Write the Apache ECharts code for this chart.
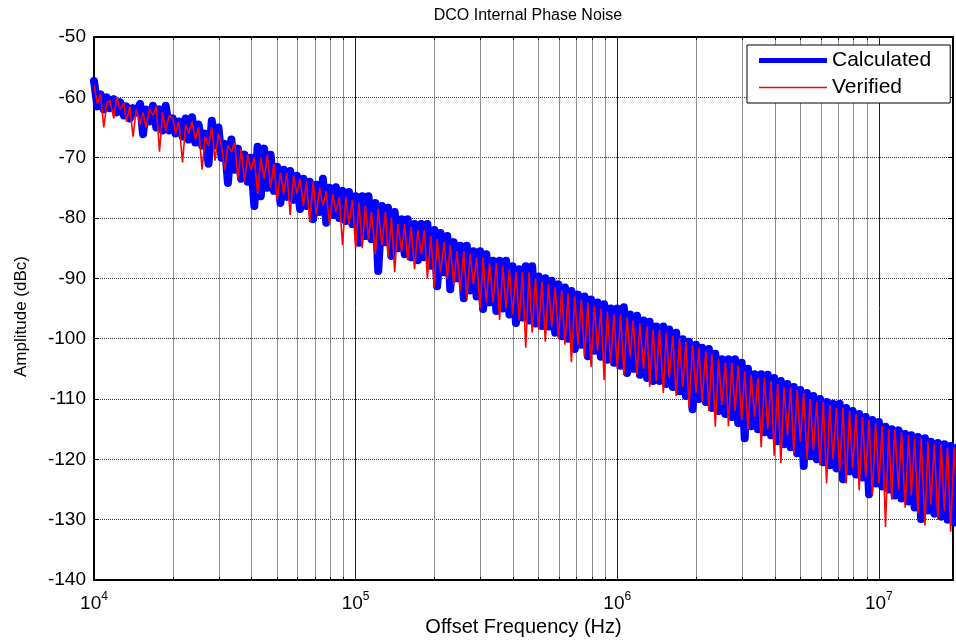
<!DOCTYPE html>
<html>
<head>
<meta charset="utf-8">
<title>DCO Internal Phase Noise</title>
<script src="https://cdn.jsdelivr.net/npm/echarts@6/dist/echarts.min.js"></script>
<style>
  html, body { margin: 0; padding: 0; background: #ffffff; }
  #chart { width: 956px; height: 641px; }
</style>
</head>
<body>
<div id="chart"></div>
<script>
// Offset-frequency grid: 80 log-spaced points per decade
const MANTISSAS = [
  1.00, 1.03, 1.06, 1.09, 1.12, 1.15, 1.19, 1.22, 1.26, 1.30,
  1.33, 1.37, 1.41, 1.45, 1.50, 1.54, 1.58, 1.63, 1.68, 1.73,
  1.78, 1.83, 1.88, 1.94, 2.00, 2.05, 2.11, 2.18, 2.24, 2.30,
  2.37, 2.44, 2.51, 2.59, 2.66, 2.74, 2.82, 2.90, 2.99, 3.07,
  3.16, 3.25, 3.35, 3.45, 3.55, 3.65, 3.76, 3.87, 3.98, 4.10,
  4.22, 4.34, 4.47, 4.60, 4.73, 4.87, 5.01, 5.16, 5.31, 5.46,
  5.62, 5.79, 5.96, 6.13, 6.31, 6.49, 6.68, 6.88, 7.08, 7.29,
  7.50, 7.72, 7.94, 8.18, 8.41, 8.66, 8.91, 9.17, 9.44, 9.72
];
const DECADES = [1e4, 1e5, 1e6, 1e7];

// Calculated phase noise (dBc), one value per grid frequency
const CALCULATED = [
  -57.3, -61.5, -59.5, -62, -60, -61.8, -60.3, -62.5, -60.8, -63,
  -61.5, -63.5, -61.8, -62.5, -61.1, -66.1, -62, -64, -61.4, -65,
  -62, -65.5, -61.4, -65.5, -63.5, -66, -64, -66.5, -63.5, -67,
  -63.3, -67.5, -64.5, -68, -66, -71, -63.9, -68, -65, -70,
  -67.7, -74.2, -67, -72, -68.5, -73.5, -69.5, -74, -70, -78,
  -68.2, -76.4, -68.5, -75, -69.5, -75.5, -71.5, -77.5, -72, -76.5,
  -72.2, -77, -73, -78.5, -73.5, -78, -74, -80.2, -74.5, -79,
  -73.5, -80.8, -75, -79.5, -74.9, -80, -75.5, -80.5, -75.7, -81,
  -76.4, -84.1, -76.4, -83, -76.4, -83.5, -77.5, -88.8, -78, -84,
  -78.3, -86.3, -79, -85, -80.2, -86, -80.2, -86.5, -81, -87,
  -81, -86.5, -81, -87.9, -82, -91.3, -82.5, -89, -83, -91.8,
  -84, -90, -84.6, -93.3, -84.6, -92, -85.5, -93, -85.5, -95.1,
  -86, -94, -87.1, -95.4, -87.1, -95, -87.1, -96, -88, -97.4,
  -88.5, -96.5, -88, -97, -88, -97.5, -89.7, -97.9, -90, -98,
  -90.4, -99, -91, -99.6, -91.5, -100, -92.1, -101.7, -92.7, -101,
  -93, -102.9, -93.5, -102, -94, -103, -94.3, -103.5, -95, -104,
  -95, -104.5, -94.8, -105.7, -96, -105, -96.2, -106, -97, -106.5,
  -97.2, -107, -98, -107, -98, -107.5, -98.5, -108, -99, -108.7,
  -100.1, -109.5, -100.5, -111.7, -101, -110, -101.5, -110.5, -101.7, -111.5,
  -102.5, -112, -103.4, -112.5, -103.4, -113, -103.4, -114, -104, -116.5,
  -105, -114.5, -105.9, -115, -105.9, -115.5, -106, -116, -106.5, -117,
  -107, -117.5, -107.5, -118, -108, -119, -108.5, -121.1, -109, -119.5,
  -109.5, -120, -110, -120.5, -110.5, -121, -110.8, -121.5, -110.8, -123.3,
  -111.5, -122, -112, -122.5, -112.5, -123, -113, -125.8, -113.5, -124,
  -113.8, -124.5, -114.6, -125, -115, -126, -115.2, -126.5, -115.8, -127,
  -116, -128, -116.3, -129.9, -116.5, -128.5, -117.1, -129, -117.3, -129.5,
  -117.5, -130, -117.8, -130.5, -118
];

// Verified phase noise (dBc), same frequency grid
const VERIFIED = [
  -58, -61, -59.5, -65, -61, -60.5, -63.5, -60, -62, -61,
  -64, -61.5, -66.5, -62, -64.5, -62.5, -65, -62, -63, -61.5,
  -69, -62.5, -65.5, -63, -63.5, -66, -64, -70.8, -64.5, -66,
  -64, -67, -65, -72, -66.5, -68, -65, -70.5, -66, -68,
  -72, -68, -69, -67.5, -73.5, -68.5, -74, -69.5, -72, -70,
  -76, -70, -73.5, -69.5, -75, -71, -77, -72.5, -76, -72.5,
  -79.5, -73, -76, -73.5, -78, -74, -80.7, -74, -79.5, -75,
  -78, -75.5, -81, -76, -79, -76.5, -84.5, -76.5, -81, -77,
  -85, -77.5, -85, -78, -83.5, -79, -86, -78.5, -84.5, -79,
  -86.5, -80, -89, -81, -85.5, -81, -87, -81.5, -88.5, -82,
  -86, -82, -90, -83, -91.5, -83.5, -89, -84, -90, -84.5,
  -91, -85.5, -92, -85.5, -93.5, -86, -91, -86.5, -95, -86.5,
  -94, -87.5, -94, -87.5, -96.9, -88, -95, -88.5, -96, -89,
  -97, -89, -101.5, -89, -99, -90, -98.5, -90.5, -100.5, -91,
  -98, -91.5, -100, -92, -101, -92.5, -103.9, -93, -101, -93.5,
  -103, -94, -104.7, -94.5, -102, -95, -106.9, -95.5, -104, -96,
  -105, -96, -106, -96.5, -103, -97, -106, -97.5, -105, -98,
  -108, -98.5, -107, -98.5, -109, -99, -106.5, -99.5, -109.5, -100,
  -108, -100.5, -111.5, -101, -109, -101.5, -110.5, -102, -112, -102.5,
  -114.6, -103.5, -111, -104, -114.5, -104, -112, -104.5, -113.5, -105.5,
  -115, -106, -113, -106.5, -118, -106.5, -115, -107, -119.4, -107.5,
  -120.6, -108, -116, -108, -119, -108.5, -117, -109, -120, -110,
  -118.5, -110.5, -121, -110.5, -124, -111, -120, -111.5, -122, -111.5,
  -124, -112, -121.5, -112.5, -125.1, -113, -123, -113.5, -126, -114,
  -124, -114.5, -131.2, -115, -126.7, -115, -125, -115.5, -128, -116,
  -126, -116.5, -129, -116.5, -131, -117, -127.5, -117.5, -130, -117.5,
  -128.5, -118, -132, -118, -131
];

const X_MIN = 1e4;
const X_MAX = 1.92e7;
const Y_MIN = -140;
const Y_MAX = -50;
const Y_STEP = 10;
const MINOR_STEPS = [2, 3, 4, 5, 6, 7, 8, 9];

const FONT = "'Liberation Sans', Arial, Helvetica, sans-serif";
const BLUE = '#0000ff';
const RED = '#ff0000';

// frequency axis values
const freq = [];
for (const d of DECADES) {
  for (const m of MANTISSAS) {
    if (freq.length < CALCULATED.length) freq.push(+(m * d).toPrecision(4));
  }
}
const calcData = freq.map((f, i) => [f, CALCULATED[i]]);
const verData = freq.map((f, i) => [f, VERIFIED[i]]);

// vertical grid lines and minor ticks at 2..9 x decade
const gridLines = [];
const minorTicks = [];
for (const d of DECADES) {
  if (d > X_MIN) {
    gridLines.push({ xAxis: d, lineStyle: { color: '#222222', width: 1, type: 'solid' } });
  }
  for (const m of MINOR_STEPS) {
    const v = m * d;
    if (v >= X_MAX) continue;
    gridLines.push({ xAxis: v, lineStyle: { color: '#8c8c8c', width: 1, type: 'solid' } });
    minorTicks.push([{ coord: [v, Y_MIN], lineStyle: { color: '#000', width: 1, type: 'solid' } }, { coord: [v, Y_MIN + 0.5] }]);
    minorTicks.push([{ coord: [v, Y_MAX], lineStyle: { color: '#000', width: 1, type: 'solid' } }, { coord: [v, Y_MAX - 0.5] }]);
  }
}

// legend swatches: thick and thin horizontal strokes inside a 68x14 box
const ICON_THICK = 'path://M0,0L0.01,0M0,4.5L68,4.5L68,9.5L0,9.5ZM68,14L67.99,14';
const ICON_THIN = 'path://M0,0L0.01,0M0,6.2L68,6.2L68,7.8L0,7.8ZM68,14L67.99,14';

const chart = echarts.init(document.getElementById('chart'), null, { renderer: 'canvas' });

const axisLineStyle = { show: true, onZero: false, lineStyle: { color: '#000', width: 2 } };
const insideTick = { show: true, inside: true, length: 5, lineStyle: { color: '#000', width: 1 } };

chart.setOption({
  animation: false,
  backgroundColor: '#ffffff',
  textStyle: { fontFamily: FONT },
  title: {
    text: 'DCO Internal Phase Noise',
    left: 523,
    top: 3,
    textAlign: 'center',
    textStyle: { fontFamily: FONT, fontSize: 16, fontWeight: 'normal', color: '#000' }
  },
  grid: { left: 94, right: 3, top: 37, bottom: 61, containLabel: false, outerBoundsMode: 'none' },
  legend: {
    data: [
      { name: 'Calculated', icon: ICON_THICK, itemStyle: { color: BLUE, opacity: 1, borderWidth: 0 } },
      { name: 'Verified', icon: ICON_THIN, itemStyle: { color: RED, opacity: 1, borderWidth: 0 } }
    ],
    orient: 'vertical',
    left: 747,
    top: 45,
    itemWidth: 68,
    itemHeight: 14,
    itemGap: 6,
    symbolKeepAspect: false,
    padding: [5, 19, 5, 12],
    borderColor: '#000',
    borderWidth: 1,
    backgroundColor: '#ffffff',
    selectedMode: false,
    textStyle: { fontFamily: FONT, fontSize: 21, color: '#000' }
  },
  xAxis: [
    {
      type: 'log',
      logBase: 10,
      min: X_MIN,
      max: X_MAX,
      position: 'bottom',
      name: 'Offset Frequency (Hz)',
      nameLocation: 'middle',
      nameGap: 37,
      nameTextStyle: { fontFamily: FONT, fontSize: 20, color: '#000' },
      axisLine: axisLineStyle,
      axisTick: insideTick,
      splitLine: { show: false },
      axisLabel: {
        margin: 11,
        color: '#000',
        showMinLabel: true,
        showMaxLabel: false,
        formatter: (v) => '{b|10}{s|' + Math.round(Math.log10(v)) + '}',
        rich: {
          b: { fontFamily: FONT, fontSize: 19, color: '#000', verticalAlign: 'bottom' },
          s: { fontFamily: FONT, fontSize: 12, color: '#000', verticalAlign: 'bottom', padding: [0, 0, 10, 0] }
        }
      }
    },
    {
      type: 'log',
      logBase: 10,
      min: X_MIN,
      max: X_MAX,
      position: 'top',
      axisLine: axisLineStyle,
      axisTick: insideTick,
      axisLabel: { show: false },
      splitLine: { show: false }
    }
  ],
  yAxis: [
    {
      type: 'value',
      min: Y_MIN,
      max: Y_MAX,
      interval: Y_STEP,
      position: 'left',
      name: 'Amplitude (dBc)',
      nameLocation: 'middle',
      nameGap: 64,
      nameTextStyle: { fontFamily: FONT, fontSize: 17, color: '#000', padding: [0, 16, 0, 0] },
      axisLine: axisLineStyle,
      axisTick: insideTick,
      axisLabel: { margin: 8, fontFamily: FONT, fontSize: 19, color: '#000' },
      splitLine: { show: true, lineStyle: { color: '#333', width: 1, type: 'dotted' } }
    },
    {
      type: 'value',
      min: Y_MIN,
      max: Y_MAX,
      interval: Y_STEP,
      position: 'right',
      axisLine: axisLineStyle,
      axisTick: insideTick,
      axisLabel: { show: false },
      splitLine: { show: false }
    }
  ],
  series: [
    {
      name: 'grid',
      type: 'line',
      data: [],
      silent: true,
      z: 1,
      markLine: {
        silent: true,
        z: 1,
        animation: false,
        symbol: ['none', 'none'],
        label: { show: false },
        emphasis: { disabled: true },
        data: gridLines.concat(minorTicks)
      }
    },
    {
      name: 'Calculated',
      type: 'line',
      xAxisIndex: 0,
      yAxisIndex: 0,
      data: calcData,
      symbol: 'none',
      showSymbol: false,
      z: 3,
      itemStyle: { color: BLUE },
      lineStyle: { color: BLUE, width: 8, join: 'round', cap: 'round' },
      emphasis: { disabled: true }
    },
    {
      name: 'Verified',
      type: 'line',
      xAxisIndex: 0,
      yAxisIndex: 0,
      data: verData,
      symbol: 'none',
      showSymbol: false,
      z: 4,
      itemStyle: { color: RED },
      lineStyle: { color: RED, width: 1.6 },
      emphasis: { disabled: true }
    }
  ]
});
</script>
</body>
</html>
